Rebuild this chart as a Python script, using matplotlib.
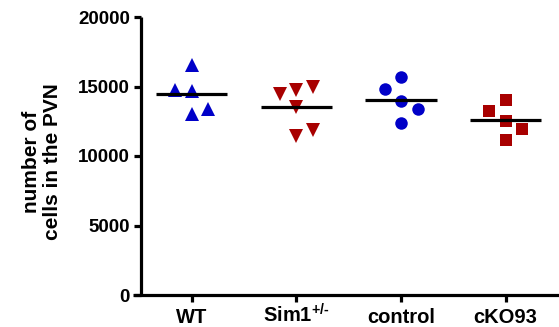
import matplotlib
matplotlib.use("Agg")
import matplotlib.pyplot as plt
import numpy as np

plt.rcParams['font.family'] = ['Liberation Sans', 'DejaVu Sans']
plt.rcParams['font.weight'] = 'bold'
plt.rcParams['mathtext.fontset'] = 'custom'
plt.rcParams['mathtext.rm'] = 'Liberation Sans:bold'
plt.rcParams['mathtext.it'] = 'Liberation Sans:bold'
plt.rcParams['mathtext.bf'] = 'Liberation Sans:bold'
plt.rcParams['mathtext.default'] = 'rm'

categories = ['WT', r'Sim1$^{+/\text{-}}$', 'control', 'cKO93']
wt = [16550, 14750, 14680, 13020, 13380]
wt_off = [0, -1, 0, 0, 1]
sim1 = [14440, 14750, 14990, 13550, 11460, 11870]
sim1_off = [-1, 0, 1, 0, 0, 1]
control = [15710, 14800, 13980, 13350, 12350]
control_off = [0, -1, 0, 1, 0]
cko = [14030, 13260, 12520, 11920, 11150]
cko_off = [0, -1, 0, 1, 0]
yticks = [0, 5000, 10000, 15000, 20000]

groups = [(wt, wt_off, '^', '#0000C8', 9.5),
          (sim1, sim1_off, 'v', '#A80000', 9.5),
          (control, control_off, 'o', '#0000C8', 9),
          (cko, cko_off, 's', '#A80000', 8)]

fig = plt.figure(figsize=(5.59, 3.27), dpi=100)
ax = fig.add_axes([133/559, 1-295/327, (559-133)/559, (295-17)/327])

spacing = 104.6
jit = 16.5 / spacing
for i, (vals, offs, mk, col, ms) in enumerate(groups):
    xs = i + np.array(offs) * jit
    ax.plot(xs, vals, linestyle='none', marker=mk, color=col, markersize=ms,
            markeredgewidth=0, clip_on=False, zorder=3)
    m = np.mean(vals)
    ax.plot([i - 0.34, i + 0.34], [m, m], color='black', lw=2.3, zorder=4,
            solid_capstyle='butt')

left = (133 - 191.7) / spacing
right = 3 + (559 - 505.7) / spacing
ax.set_xlim(left, right)
ax.set_ylim(0, 20000)
yaxis_x = (141 - 191.7) / spacing
ax.spines['left'].set_position(('data', yaxis_x))
ax.spines['top'].set_visible(False)
ax.spines['right'].set_visible(False)
for s in ['left', 'bottom']:
    ax.spines[s].set_linewidth(2.3)
    ax.spines[s].set_capstyle('butt')

ax.set_xticks(range(4))
ax.set_xticklabels(categories, fontsize=14.5, fontweight='bold')
for lbl in ax.get_xticklabels():
    lbl.set_verticalalignment('baseline')
ax.set_yticks(yticks)
ax.set_yticklabels([str(v) for v in yticks], fontsize=13.5, fontweight='bold')
ax.tick_params(axis='both', length=5, width=2.3, direction='out', pad=3)
ax.tick_params(axis='x', pad=15)

fig.text(42/559, 1-162/327, 'number of\ncells in the PVN', rotation=90,
         ha='center', va='center', fontsize=15, fontweight='bold',
         linespacing=1.1)

fig.savefig('out.png', dpi=100)
